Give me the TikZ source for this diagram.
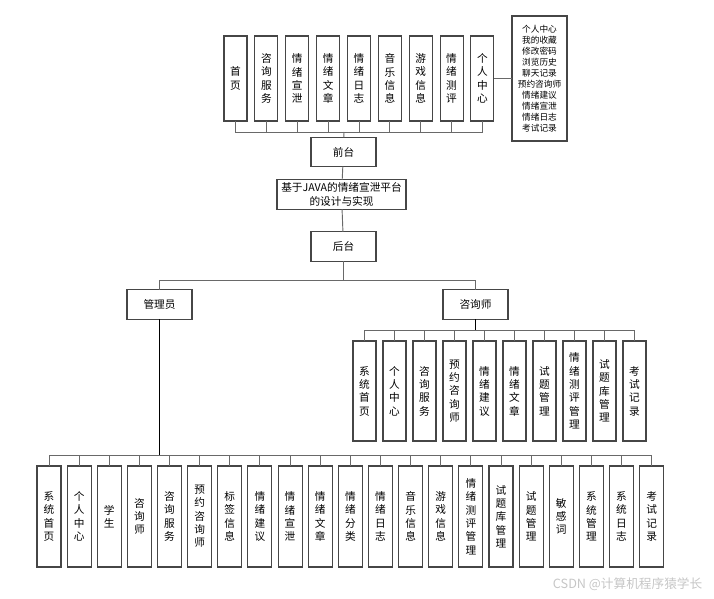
\documentclass[tikz,border=0pt]{standalone}
\usepackage{fontspec}
\newfontfamily\cjk{Noto Sans CJK SC}
\definecolor{boxgray}{RGB}{70,70,70}
\definecolor{linegray}{RGB}{105,105,105}
\usetikzlibrary{positioning}
\tikzset{
	box/.style={rectangle, draw=boxgray, line width=0.8pt, align=center, inner sep=0pt, outer sep=0pt, font=\cjk\fontsize{8}{10}\selectfont},
	topcol/.style={box, minimum width=17.25pt, minimum height=63.75pt},
	midcol/.style={box, minimum width=17.25pt, minimum height=75pt},
	lowcol/.style={box, minimum width=18pt, minimum height=75.75pt},
	hbox/.style={box, minimum width=48.75pt, minimum height=22pt},
	listbox/.style={box, minimum width=41.25pt, minimum height=93.75pt, font=\cjk\fontsize{6.5}{8.25}\selectfont},
	stub/.style={draw=linegray, line width=0.7pt},
	trunk/.style={draw=black, line width=1.1pt},
}
\begin{document}
\begin{tikzpicture}[x=0.75pt, y=-0.75pt]
		\useasboundingbox (0,0) rectangle (714,599);
		% front end
		\node[topcol] (t1) at (235.5,78.5) {首\\页};
		\node[topcol, right=5.9pt of t1] (t2) {咨\\询\\服\\务};
		\node[topcol, right=5.9pt of t2] (t3) {情\\绪\\宣\\泄};
		\node[topcol, right=5.9pt of t3] (t4) {情\\绪\\文\\章};
		\node[topcol, right=5.9pt of t4] (t5) {情\\绪\\日\\志};
		\node[topcol, right=5.9pt of t5] (t6) {音\\乐\\信\\息};
		\node[topcol, right=5.9pt of t6] (t7) {游\\戏\\信\\息};
		\node[topcol, right=5.9pt of t7] (t8) {情\\绪\\测\\评};
		\node[topcol, right=5.9pt of t8] (t9) {个\\人\\中\\心};
		\node[listbox] (plist) at (539.5,78.5) {个人中心\\我的收藏\\修改密码\\浏览历史\\聊天记录\\预约咨询师\\情绪建议\\情绪宣泄\\情绪日志\\考试记录};
		\node[hbox] (front) at (343.5,152) {前台};
		\node[hbox, minimum width=96.75pt] (title) at (341.5,194.5) {基于JAVA的情绪宣泄平台\\的设计与实现};
		\node[hbox] (back) at (343.5,246.5) {后台};
		\node[hbox] (admin) at (159.5,304.5) {管理员};
		\node[hbox] (coun) at (475.5,304.5) {咨询师};
		% counsellor modules
		\node[midcol] (c1) at (364.5,391) {系\\统\\首\\页};
		\node[midcol, right=5.25pt of c1] (c2) {个\\人\\中\\心};
		\node[midcol, right=5.25pt of c2] (c3) {咨\\询\\服\\务};
		\node[midcol, right=5.25pt of c3] (c4) {预\\约\\咨\\询\\师};
		\node[midcol, right=5.25pt of c4] (c5) {情\\绪\\建\\议};
		\node[midcol, right=5.25pt of c5] (c6) {情\\绪\\文\\章};
		\node[midcol, right=5.25pt of c6] (c7) {试\\题\\管\\理};
		\node[midcol, right=5.25pt of c7] (c8) {情\\绪\\测\\评\\管\\理};
		\node[midcol, right=5.25pt of c8] (c9) {试\\题\\库\\管\\理};
		\node[midcol, right=5.25pt of c9] (c10) {考\\试\\记\\录};
		% admin modules
		\node[lowcol] (a1) at (49,516.5) {系\\统\\首\\页};
		\node[lowcol, right=4.6pt of a1] (a2) {个\\人\\中\\心};
		\node[lowcol, right=4.6pt of a2] (a3) {学\\生};
		\node[lowcol, right=4.6pt of a3] (a4) {咨\\询\\师};
		\node[lowcol, right=4.6pt of a4] (a5) {咨\\询\\服\\务};
		\node[lowcol, right=4.6pt of a5] (a6) {预\\约\\咨\\询\\师};
		\node[lowcol, right=4.6pt of a6] (a7) {标\\签\\信\\息};
		\node[lowcol, right=4.6pt of a7] (a8) {情\\绪\\建\\议};
		\node[lowcol, right=4.6pt of a8] (a9) {情\\绪\\宣\\泄};
		\node[lowcol, right=4.6pt of a9] (a10) {情\\绪\\文\\章};
		\node[lowcol, right=4.6pt of a10] (a11) {情\\绪\\分\\类};
		\node[lowcol, right=4.6pt of a11] (a12) {情\\绪\\日\\志};
		\node[lowcol, right=4.6pt of a12] (a13) {音\\乐\\信\\息};
		\node[lowcol, right=4.6pt of a13] (a14) {游\\戏\\信\\息};
		\node[lowcol, right=4.6pt of a14] (a15) {情\\绪\\测\\评\\管\\理};
		\node[lowcol, right=4.6pt of a15] (a16) {试\\题\\库\\管\\理};
		\node[lowcol, right=4.6pt of a16] (a17) {试\\题\\管\\理};
		\node[lowcol, right=4.6pt of a17] (a18) {敏\\感\\词};
		\node[lowcol, right=4.6pt of a18] (a19) {系\\统\\管\\理};
		\node[lowcol, right=4.6pt of a19] (a20) {系\\统\\日\\志};
		\node[lowcol, right=4.6pt of a20] (a21) {考\\试\\记\\录};
		\node[font=\cjk\fontsize{9.5}{11}\selectfont, text=gray!45, anchor=east] (mark) at (707,584) {CSDN @计算机程序猿学长};
		% connectors
		\coordinate (tbus) at (344,132);
		\coordinate (hbus) at (343.5,280);
		\coordinate (cbus) at (475.5,330);
		\coordinate (abus) at (159.5,455);
		\foreach \i in {1,...,9} \draw[stub] (t\i.south) |- (tbus);
		\draw[stub] (tbus) -- (front);
		\draw[stub] (t9) -- (plist);
		\draw[stub] (front) -- (title);
		\draw[stub] (title) -- (back);
		\draw[stub] (back) -- (hbus);
		\draw[stub] (admin) |- (hbus);
		\draw[stub] (coun) |- (hbus);
		\foreach \i in {1,...,10} \draw[stub] (c\i.north) |- (cbus);
		\draw[trunk] (coun) -- (cbus);
		\foreach \i in {1,...,21} \draw[stub] (a\i.north) |- (abus);
		\draw[trunk] (admin) -- (abus);
	\end{tikzpicture}
\end{document}
